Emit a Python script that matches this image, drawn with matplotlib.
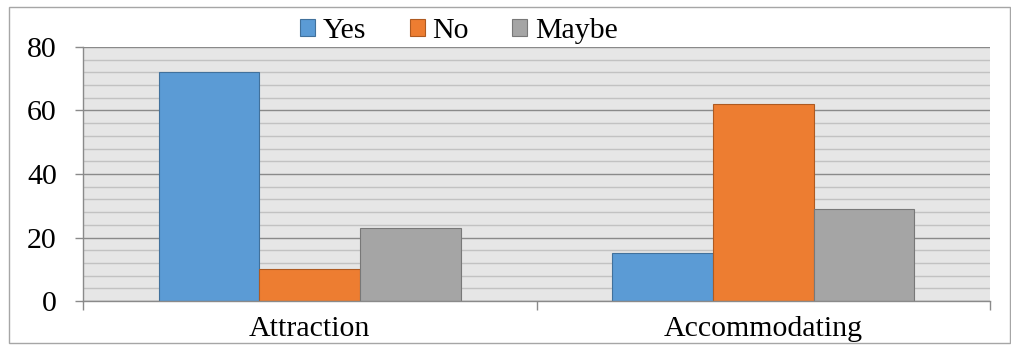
import matplotlib
matplotlib.use("Agg")
import matplotlib.pyplot as plt
from matplotlib.patches import Rectangle, Patch
from matplotlib.ticker import MultipleLocator, FixedLocator
import numpy as np

categories = ["Attraction", "Accommodating"]
series_names = ["Yes", "No", "Maybe"]
yes_vals = [72, 15]
no_vals = [10, 62]
maybe_vals = [23, 29]

colors = ["#5B9BD5", "#ED7D31", "#A5A5A5"]
edges = ["#41719C", "#AE5A21", "#787878"]

plt.rcParams['font.family'] = ['Liberation Serif', 'DejaVu Serif']
FS = 21.5
PX = 72 / 100  # points per pixel

fig = plt.figure(figsize=(10.11, 3.45), dpi=100)
W, H = 1011, 345
ax = fig.add_axes([83 / W, 1 - 301 / H, (990 - 83) / W, (301 - 47) / H])
ax.set_facecolor("#E6E6E6")

x = np.arange(len(categories))
w = 1 / 4.5
vals = [yes_vals, no_vals, maybe_vals]
for i, (name, v) in enumerate(zip(series_names, vals)):
    ax.bar(x + (i - 1) * w, v, width=w, color=colors[i], edgecolor=edges[i],
           linewidth=0.8, label=name, zorder=3)

ax.set_xlim(-0.5, len(categories) - 0.5)
ax.set_ylim(0, 80)
ax.yaxis.set_major_locator(MultipleLocator(20))
ax.yaxis.set_minor_locator(MultipleLocator(4))
ax.grid(which="major", axis="y", color="#8A8A8A", linewidth=1.0, zorder=1)
ax.grid(which="minor", axis="y", color="#C2C2C2", linewidth=1.0, zorder=1)

ax.set_xticks(x)
ax.set_xticklabels(categories, fontsize=FS)
ax.xaxis.set_minor_locator(FixedLocator([-0.5, 0.5, 1.5]))
ax.tick_params(axis="x", which="major", length=0, pad=11)
ax.tick_params(axis="x", which="minor", length=9 * PX, width=1, color="#8A8A8A", direction="out")
ax.tick_params(axis="y", which="major", length=8 * PX, width=1, color="#8A8A8A", labelsize=FS,
               pad=18 * PX)
ax.tick_params(axis="y", which="minor", length=0)

for s in ["top", "right"]:
    ax.spines[s].set_visible(False)
for s in ["left", "bottom"]:
    ax.spines[s].set_color("#8A8A8A")
    ax.spines[s].set_linewidth(1.0)
    ax.spines[s].set_zorder(4)

handles = [Patch(facecolor=colors[i], edgecolor=edges[i], linewidth=0.8) for i in range(3)]
fig.legend(handles, series_names, loc="center", bbox_to_anchor=(459 / W, 1 - 31 / H),
           ncol=3, frameon=False, fontsize=FS, handlelength=0.5, handleheight=0.5,
           handletextpad=0.27, columnspacing=1.45, borderpad=0, borderaxespad=0)

fig.patches.append(Rectangle((9 / W, 1 - 343 / H), (1010 - 9) / W, (343 - 7) / H,
                             transform=fig.transFigure, fill=False,
                             edgecolor="#A6A6A6", linewidth=1.0))

fig.savefig("out.png", dpi=100)
